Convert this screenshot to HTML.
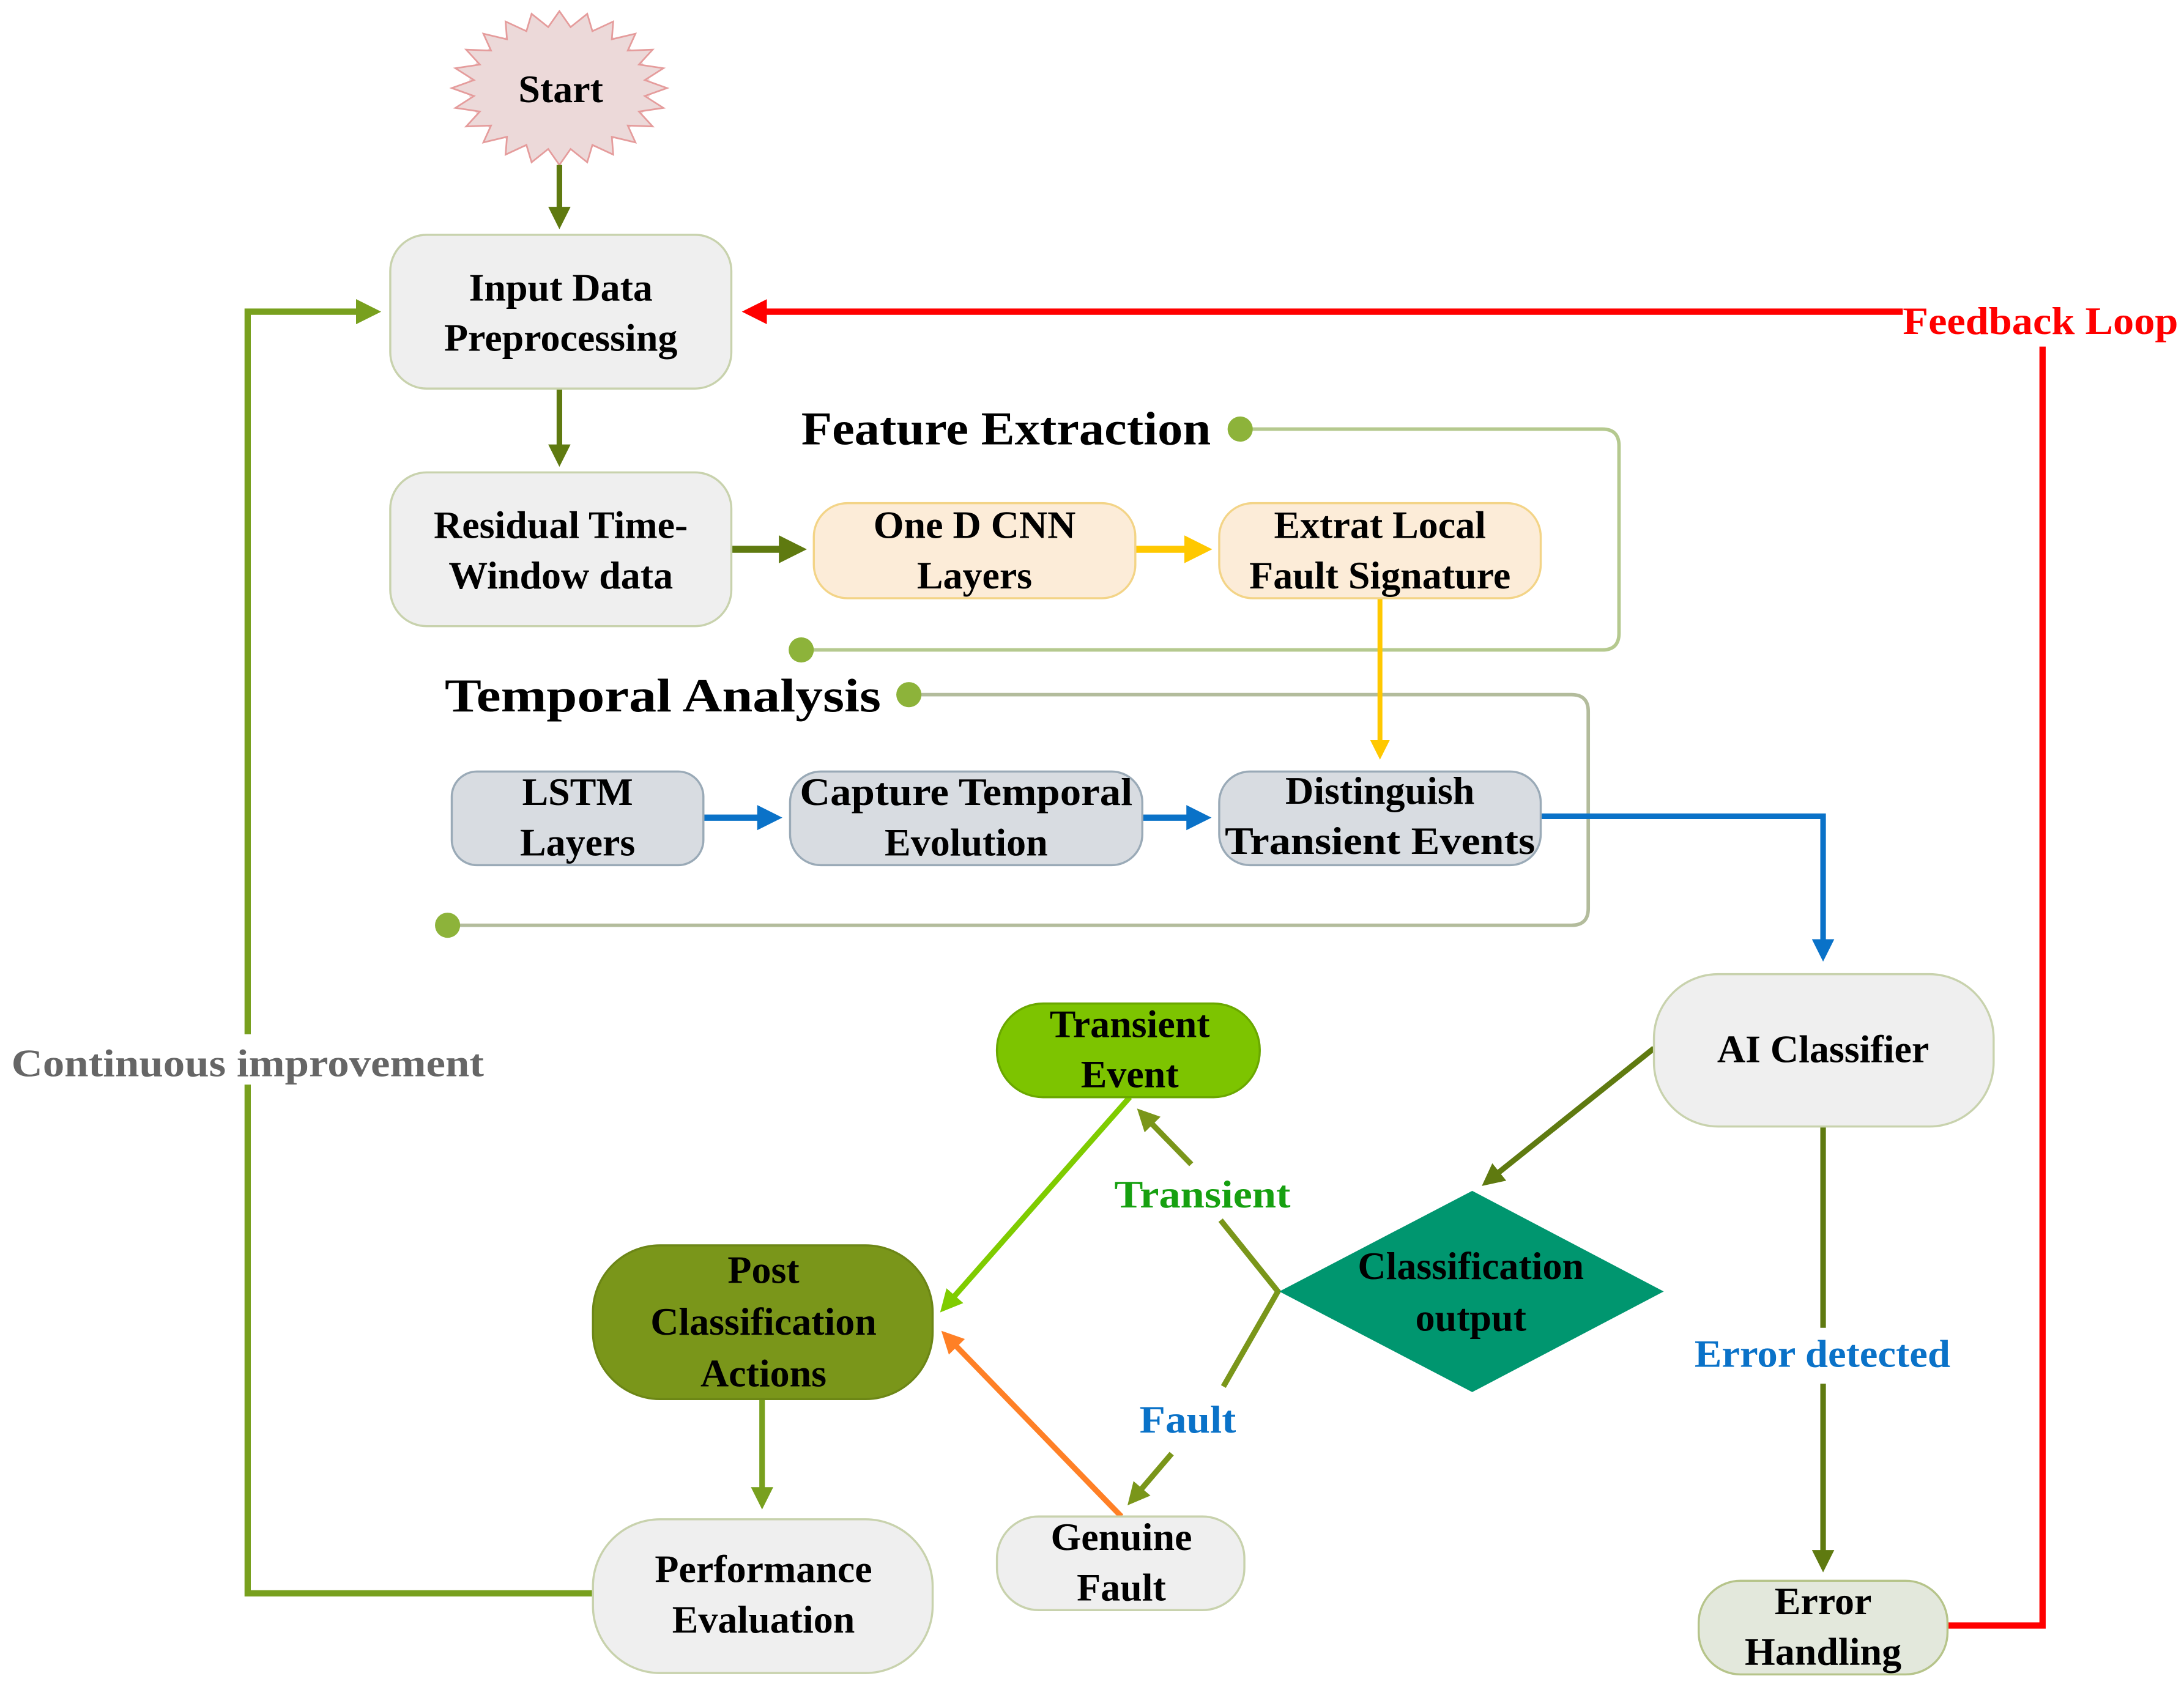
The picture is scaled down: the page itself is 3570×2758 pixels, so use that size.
<!DOCTYPE html>
<html><head><meta charset="utf-8"><style>
html,body{margin:0;padding:0;background:#fff;}
svg{display:block;}
text{font-family:"Liberation Serif",serif;font-weight:bold;}
</style></head><body>
<svg id="s" width="3570" height="2758" viewBox="0 0 1562 1207" xmlns="http://www.w3.org/2000/svg">
<defs>
<marker id="aG" markerWidth="4" markerHeight="4" refX="3" refY="2" orient="auto" markerUnits="strokeWidth"><path d="M0,0 L4,2 L0,4 z" fill="#5f7a10"/></marker>
<marker id="aL" markerWidth="4" markerHeight="4" refX="3" refY="2" orient="auto" markerUnits="strokeWidth"><path d="M0,0 L4,2 L0,4 z" fill="#78a01e"/></marker>
<marker id="aY" markerWidth="4" markerHeight="4" refX="3" refY="2" orient="auto" markerUnits="strokeWidth"><path d="M0,0 L4,2 L0,4 z" fill="#ffc800"/></marker>
<marker id="aB" markerWidth="4" markerHeight="4" refX="3" refY="2" orient="auto" markerUnits="strokeWidth"><path d="M0,0 L4,2 L0,4 z" fill="#0a72c8"/></marker>
<marker id="aR" markerWidth="4" markerHeight="4" refX="3" refY="2" orient="auto" markerUnits="strokeWidth"><path d="M0,0 L4,2 L0,4 z" fill="#ff0000"/></marker>
<marker id="aLG" markerWidth="4" markerHeight="4" refX="3" refY="2" orient="auto" markerUnits="strokeWidth"><path d="M0,0 L4,2 L0,4 z" fill="#7fcc00"/></marker>
<marker id="aO" markerWidth="4" markerHeight="4" refX="3" refY="2" orient="auto" markerUnits="strokeWidth"><path d="M0,0 L4,2 L0,4 z" fill="#ff8026"/></marker>
<marker id="aOl" markerWidth="4" markerHeight="4" refX="3" refY="2" orient="auto" markerUnits="strokeWidth"><path d="M0,0 L4,2 L0,4 z" fill="#7a961a"/></marker>
</defs>

<!-- star -->
<ellipse cx="400" cy="63" rx="65" ry="45" fill="#ecd9d9"/>
<polygon id="star" fill="#ecd9d9" stroke="#e59c9c" stroke-width="1.2" points=""/>
<text x="401" y="73" font-size="28" text-anchor="middle">Start</text>

<!-- group outlines -->
<path d="M887,307 H1146 Q1158,307 1158,319 V453 Q1158,465 1146,465 H573" fill="none" stroke="#b5c98f" stroke-width="2.5"/>
<circle cx="887" cy="307" r="9" fill="#8db33a"/><circle cx="573" cy="465" r="9" fill="#8db33a"/>
<text x="573" y="318" font-size="34" textLength="293" lengthAdjust="spacingAndGlyphs">Feature Extraction</text>
<path d="M650,497 H1124 Q1136,497 1136,509 V650 Q1136,662 1124,662 H320" fill="none" stroke="#b3bc9c" stroke-width="2.5"/>
<circle cx="650" cy="497" r="9" fill="#8db33a"/><circle cx="320" cy="662" r="9" fill="#8db33a"/>
<text x="318" y="509" font-size="34" textLength="312" lengthAdjust="spacingAndGlyphs">Temporal Analysis</text>

<!-- connectors -->
<line x1="400" y1="118" x2="400" y2="160" stroke="#5f7a10" stroke-width="4" marker-end="url(#aG)"/>
<line x1="400" y1="278" x2="400" y2="330" stroke="#5f7a10" stroke-width="4" marker-end="url(#aG)"/>
<line x1="523" y1="393" x2="572" y2="393" stroke="#5f7a10" stroke-width="5" marker-end="url(#aG)"/>
<line x1="812" y1="393" x2="862" y2="393" stroke="#ffc800" stroke-width="5" marker-end="url(#aY)"/>
<line x1="987" y1="428" x2="987" y2="540" stroke="#ffc800" stroke-width="3.5" marker-end="url(#aY)"/>
<line x1="503" y1="585" x2="555" y2="585" stroke="#0a72c8" stroke-width="4.5" marker-end="url(#aB)"/>
<line x1="817" y1="585" x2="862" y2="585" stroke="#0a72c8" stroke-width="4.5" marker-end="url(#aB)"/>
<polyline points="1102,584 1304,584 1304,684" fill="none" stroke="#0a72c8" stroke-width="4" marker-end="url(#aB)"/>
<polyline points="1393,1163 1461,1163 1461,248" fill="none" stroke="#ff0000" stroke-width="4.5"/>
<line x1="1362" y1="223" x2="535" y2="223" stroke="#ff0000" stroke-width="4.5" marker-end="url(#aR)"/>
<rect x="1361" y="208" width="197" height="34" fill="#fff"/>
<text x="1361" y="239" font-size="28" fill="#ff0000" textLength="197" lengthAdjust="spacingAndGlyphs" font-weight="normal">Feedback Loop</text>
<line x1="1183" y1="750" x2="1063" y2="846" stroke="#5f7a10" stroke-width="4" marker-end="url(#aG)"/>
<line x1="1304" y1="806" x2="1304" y2="950" stroke="#5f7a10" stroke-width="4"/>
<line x1="1304" y1="990" x2="1304" y2="1121" stroke="#5f7a10" stroke-width="4" marker-end="url(#aG)"/>
<text x="1212" y="978" font-size="28" fill="#0a72c8" textLength="183" lengthAdjust="spacingAndGlyphs">Error detected</text>
<polyline points="425,1140 177,1140 177,223 268,223" fill="none" stroke="#78a01e" stroke-width="4.5" marker-end="url(#aL)"/>
<rect x="8" y="740" width="338" height="36" fill="#fff"/>
<text x="8" y="770" font-size="28" fill="#666" textLength="338" lengthAdjust="spacingAndGlyphs">Continuous improvement</text>
<line x1="545" y1="1001" x2="545" y2="1076" stroke="#78a01e" stroke-width="4" marker-end="url(#aL)"/>
<line x1="808" y1="785" x2="675" y2="936" stroke="#7fcc00" stroke-width="4" marker-end="url(#aLG)"/>
<line x1="802" y1="1085" x2="676" y2="955" stroke="#ff8026" stroke-width="4" marker-end="url(#aO)"/>
<polyline points="873,873 914,924 875,992" fill="none" stroke="#7a961a" stroke-width="4"/>
<line x1="852" y1="833" x2="816" y2="796" stroke="#7a961a" stroke-width="4" marker-end="url(#aOl)"/>
<line x1="838" y1="1040" x2="809" y2="1074" stroke="#7a961a" stroke-width="4" marker-end="url(#aOl)"/>
<text x="797" y="864" font-size="28" fill="#16a010" textLength="126" lengthAdjust="spacingAndGlyphs">Transient</text>
<text x="815" y="1025" font-size="28" fill="#0a72c8" textLength="69" lengthAdjust="spacingAndGlyphs">Fault</text>

<!-- nodes -->
<g stroke-width="1.5">
<rect x="279" y="168" width="244" height="110" rx="26" fill="#efefef" stroke="#c8d2ad"/>
<rect x="279" y="338" width="244" height="110" rx="26" fill="#efefef" stroke="#c8d2ad"/>
<rect x="582" y="360" width="230" height="68" rx="24" fill="#fcecd8" stroke="#f3d487"/>
<rect x="872" y="360" width="230" height="68" rx="24" fill="#fcecd8" stroke="#f3d487"/>
<rect x="323" y="552" width="180" height="67" rx="18" fill="#d8dce1" stroke="#9aaab7"/>
<rect x="565" y="552" width="252" height="67" rx="22" fill="#d8dce1" stroke="#9aaab7"/>
<rect x="872" y="552" width="230" height="67" rx="22" fill="#d8dce1" stroke="#9aaab7"/>
<rect x="1183" y="697" width="243" height="109" rx="46" fill="#efefef" stroke="#c8d2ad"/>
<polygon points="1053,852 1190,924 1053,996 915,924" fill="#00966f" stroke="none"/>
<rect x="1215" y="1131" width="178" height="67" rx="30" fill="#e3e8dc" stroke="#b6c48a"/>
<rect x="713" y="718" width="188" height="67" rx="33" fill="#7dc400" stroke="#6aa800"/>
<rect x="424" y="891" width="243" height="110" rx="48" fill="#7a961a" stroke="#6c8616"/>
<rect x="424" y="1087" width="243" height="110" rx="48" fill="#efefef" stroke="#c8d2ad"/>
<rect x="713" y="1085" width="177" height="67" rx="30" fill="#efefef" stroke="#c8d2ad"/>
</g>

<g font-size="28" text-anchor="middle">
<text x="401" y="215">Input Data</text><text x="401" y="251">Preprocessing</text>
<text x="401" y="385">Residual Time-</text><text x="401" y="421">Window data</text>
<text x="697" y="385">One D CNN</text><text x="697" y="421">Layers</text>
<text x="987" y="385">Extrat Local</text><text x="987" y="421">Fault Signature</text>
<text x="413" y="576">LSTM</text><text x="413" y="612">Layers</text>
<text x="691" y="576" textLength="238" lengthAdjust="spacingAndGlyphs">Capture Temporal</text><text x="691" y="612">Evolution</text>
<text x="987" y="575">Distinguish</text><text x="987" y="611" textLength="222" lengthAdjust="spacingAndGlyphs">Transient Events</text>
<text x="1304" y="760">AI Classifier</text>
<text x="1052" y="915">Classification</text><text x="1052" y="952">output</text>
<text x="1304" y="1155">Error</text><text x="1304" y="1191">Handling</text>
<text x="808" y="742">Transient</text><text x="808" y="778">Event</text>
<text x="546" y="918">Post</text><text x="546" y="955">Classification</text><text x="546" y="992">Actions</text>
<text x="546" y="1132">Performance</text><text x="546" y="1168">Evaluation</text>
<text x="802" y="1109">Genuine</text><text x="802" y="1145">Fault</text>
</g>
</svg>
<script>
(function(){var p=[],n=24,cx=400,cy=63;for(var i=0;i<n*2;i++){var a=Math.PI*i/n-Math.PI/2;var r=(i%2==0)?1:0.8;p.push((cx+77*r*Math.cos(a)).toFixed(1)+","+(cy+55*r*Math.sin(a)).toFixed(1));}document.getElementById("star").setAttribute("points",p.join(" "));})();
</script>
</body></html>
